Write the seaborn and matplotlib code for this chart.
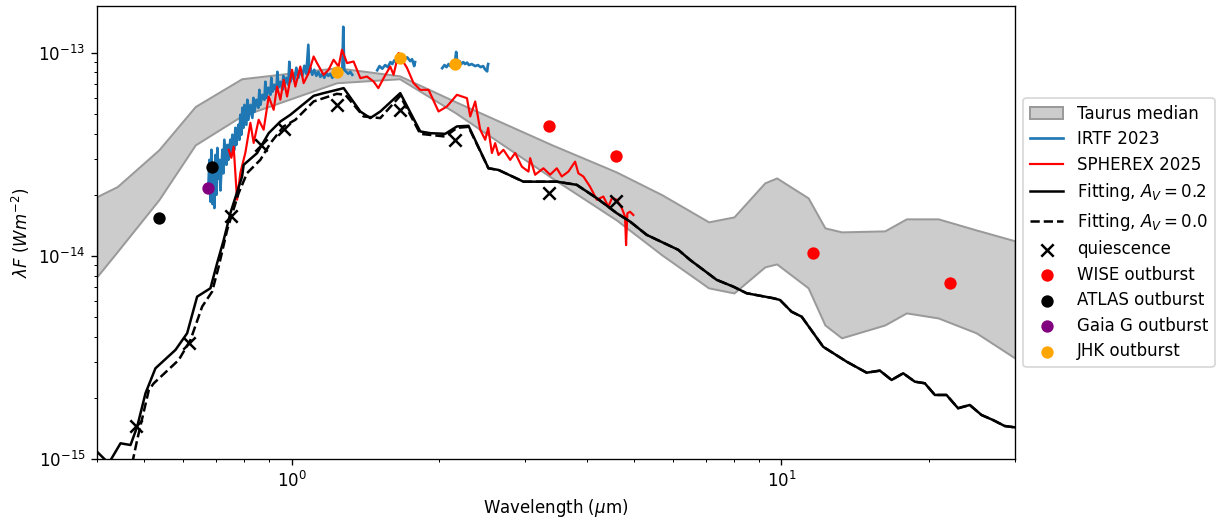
import numpy as np
import pandas as pd
import matplotlib
matplotlib.use("Agg")
import matplotlib.pyplot as plt
import matplotlib.ticker as mticker
import seaborn as sns

# ---------------- data ----------------
# Taurus median band (lower / upper envelope)
taurus_wl = [0.40, 0.44, 0.535, 0.635, 0.79, 1.235, 1.66, 2.16, 3.4, 4.6, 5.7, 7.1,
             8.0, 9.25, 9.78, 11.34, 12.27, 13.27, 16.26, 18.0, 20.9, 25.0, 30.0]
taurus_hi = [1.959e-14, 2.195e-14, 3.33e-14, 5.44e-14, 7.45e-14, 8.44e-14, 7.70e-14,
             5.74e-14, 3.52e-14, 2.59e-14, 2.00e-14, 1.471e-14, 1.556e-14, 2.29e-14,
             2.42e-14, 1.93e-14, 1.374e-14, 1.313e-14, 1.328e-14, 1.522e-14, 1.522e-14,
             1.342e-14, 1.186e-14]
taurus_lo = [7.91e-15, 1.050e-14, 1.89e-14, 3.52e-14, 4.89e-14, 7.12e-14, 7.45e-14,
             5.06e-14, 2.42e-14, 1.504e-14, 1.011e-14, 6.96e-15, 6.57e-15, 8.83e-15,
             9.13e-15, 6.96e-15, 4.57e-15, 3.95e-15, 4.57e-15, 5.24e-15, 4.95e-15,
             4.18e-15, 3.14e-15]

# IRTF 2023 spectrum (three segments)
irtf1_wl = [0.6755, 0.6787, 0.6819, 0.6851, 0.6884, 0.6916, 0.6948, 0.6981, 0.7014, 0.7046,
            0.7079, 0.7113, 0.7146, 0.7214, 0.7247, 0.7280, 0.7349, 0.7384, 0.7419, 0.7489,
            0.7524, 0.7560, 0.7632, 0.7667, 0.7702, 0.7775, 0.7812, 0.7849, 0.7887, 0.7925,
            0.7962, 0.8000, 0.8074, 0.8112, 0.8150, 0.8228, 0.8306, 0.8346, 0.8386, 0.8465,
            0.8543, 0.8584, 0.8624, 0.8705, 0.8788, 0.8830, 0.8872, 0.8954, 0.9040, 0.9082,
            0.9125, 0.9211, 0.9299, 0.9342, 0.9385, 0.9473, 0.9563, 0.9608, 0.9654, 0.9745,
            0.9837, 0.9883, 0.9929, 1.0023, 1.0118, 1.0214, 1.0311, 1.0406, 1.0505, 1.0605,
            1.0705, 1.0806, 1.0857, 1.0908, 1.1011, 1.1115, 1.1220, 1.1328, 1.1435, 1.1539,
            1.1650, 1.1760, 1.1871, 1.1984, 1.2097, 1.2209, 1.2325, 1.2442, 1.2560, 1.2679,
            1.2737, 1.2796, 1.2918, 1.3040, 1.3164, 1.3289]
irtf1_flux = [2.24e-14, 2.97e-14, 1.85e-14, 3.33e-14, 1.80e-14, 2.81e-14, 1.72e-14, 3.14e-14,
              2.00e-14, 3.40e-14, 2.40e-14, 2.97e-14, 2.10e-14, 3.33e-14, 2.55e-14, 3.73e-14,
              2.81e-14, 3.52e-14, 2.97e-14, 3.73e-14, 3.14e-14, 3.95e-14, 3.33e-14, 4.27e-14,
              3.52e-14, 4.42e-14, 3.73e-14, 4.95e-14, 3.95e-14, 5.36e-14, 4.27e-14, 5.54e-14,
              4.42e-14, 5.87e-14, 4.68e-14, 5.54e-14, 4.78e-14, 6.00e-14, 5.12e-14, 5.87e-14,
              5.36e-14, 6.57e-14, 5.54e-14, 6.21e-14, 5.87e-14, 7.20e-14, 6.00e-14, 6.73e-14,
              6.21e-14, 7.53e-14, 6.43e-14, 6.96e-14, 6.43e-14, 8.06e-14, 6.73e-14, 7.20e-14,
              6.57e-14, 7.70e-14, 6.88e-14, 7.53e-14, 6.96e-14, 9.03e-14, 7.20e-14, 7.79e-14,
              7.36e-14, 8.44e-14, 7.53e-14, 8.25e-14, 7.70e-14, 8.63e-14, 7.88e-14, 1.095e-13,
              8.06e-14, 8.44e-14, 7.79e-14, 8.25e-14, 7.70e-14, 8.06e-14, 7.61e-14, 7.88e-14,
              7.53e-14, 7.97e-14, 7.70e-14, 7.88e-14, 7.53e-14, 7.88e-14, 8.06e-14, 7.88e-14,
              8.06e-14, 8.25e-14, 1.343e-13, 8.25e-14, 8.06e-14, 7.88e-14, 8.06e-14, 7.79e-14]
irtf2_wl = [1.494, 1.51, 1.53, 1.551, 1.57, 1.59, 1.604, 1.62, 1.635, 1.650, 1.665, 1.68,
            1.70, 1.72, 1.745, 1.76, 1.778, 1.785]
irtf2_flux = [8.2e-14, 8.6e-14, 8.35e-14, 8.7e-14, 8.5e-14, 9.0e-14, 8.8e-14, 9.2e-14,
              9.0e-14, 9.4e-14, 9.2e-14, 9.6e-14, 9.3e-14, 9.5e-14, 9.1e-14, 9.3e-14,
              8.6e-14, 9.0e-14]
irtf3_wl = [2.028, 2.05, 2.07, 2.09, 2.106, 2.13, 2.155, 2.166, 2.178, 2.20, 2.22, 2.24,
            2.259, 2.28, 2.30, 2.33, 2.368, 2.40, 2.43, 2.459, 2.48, 2.506, 2.512, 2.518]
irtf3_flux = [8.4e-14, 8.7e-14, 8.5e-14, 8.8e-14, 8.6e-14, 8.9e-14, 9.1e-14, 1.01e-13,
              8.9e-14, 9.1e-14, 8.8e-14, 9.0e-14, 8.8e-14, 8.95e-14, 8.7e-14, 8.8e-14,
              8.6e-14, 8.7e-14, 8.5e-14, 8.6e-14, 8.3e-14, 8.1e-14, 8.6e-14, 8.8e-14]

# SPHEREx 2025 spectrum
spherex_wl = [0.7430, 0.7524, 0.7606, 0.7729, 0.7849, 0.8036, 0.8228, 0.8356, 0.8555, 0.8758,
              0.8968, 0.9180, 0.9328, 0.9474, 0.9623, 0.9777, 1.001, 1.0165, 1.0407, 1.0570,
              1.0822, 1.1079, 1.1257, 1.1611, 1.1887, 1.2169, 1.2459, 1.2659, 1.2965, 1.3371,
              1.3801, 1.4237, 1.4690, 1.5018, 1.5396, 1.5885, 1.6136, 1.6519, 1.6888, 1.7183,
              1.7726, 1.8292, 1.9022, 1.9935, 2.0737, 2.1735, 2.2784, 2.3140, 2.3689, 2.4252,
              2.4828, 2.5179, 2.5623, 2.6022, 2.6427, 2.7055, 2.7922, 2.8586, 2.9501, 3.0433,
              3.0672, 3.1400, 3.2650, 3.3697, 3.4768, 3.5595, 3.6718, 3.7895, 3.8485, 3.9400,
              4.0661, 4.1965, 4.3280, 4.4310, 4.5093, 4.6101, 4.7196, 4.7930, 4.8161, 4.8450,
              4.9068, 4.9842]
spherex_flux = [3.33e-14, 3.04e-14, 3.45e-14, 1.89e-14, 2.56e-14, 3.22e-14, 4.52e-14, 3.60e-14,
                4.68e-14, 4.18e-14, 6.09e-14, 5.24e-14, 6.82e-14, 5.87e-14, 7.36e-14, 6.09e-14,
                8.25e-14, 6.82e-14, 8.56e-14, 7.09e-14, 7.94e-14, 9.59e-14, 8.90e-14, 7.79e-14,
                8.25e-14, 9.24e-14, 8.56e-14, 1.035e-13, 8.90e-14, 9.06e-14, 7.50e-14, 7.64e-14,
                7.22e-14, 6.70e-14, 7.50e-14, 8.56e-14, 7.79e-14, 9.97e-14, 9.03e-14, 8.44e-14,
                7.09e-14, 6.57e-14, 6.57e-14, 5.14e-14, 5.44e-14, 6.21e-14, 5.98e-14, 4.86e-14,
                5.76e-14, 4.18e-14, 3.73e-14, 4.27e-14, 3.21e-14, 3.59e-14, 3.14e-14, 3.33e-14,
                2.97e-14, 3.21e-14, 2.75e-14, 2.60e-14, 3.03e-14, 2.51e-14, 2.70e-14, 2.51e-14,
                2.70e-14, 2.46e-14, 2.60e-14, 2.91e-14, 2.55e-14, 2.46e-14, 2.19e-14, 1.89e-14,
                1.96e-14, 1.75e-14, 1.93e-14, 1.89e-14, 1.72e-14, 1.56e-14, 1.13e-14, 1.62e-14,
                1.65e-14, 1.59e-14]

# Model fits
fit_av02_wl = [0.40, 0.4227, 0.4467, 0.4683, 0.4831, 0.5024, 0.5265, 0.5784, 0.6111, 0.6405,
               0.6819, 0.7036, 0.7259, 0.7489, 0.7913, 0.7972, 0.849, 0.8969, 0.9474, 0.9929,
               1.108, 1.161, 1.236, 1.276, 1.380, 1.446, 1.516, 1.665, 1.829, 1.918,
               2.057, 2.174, 2.295, 2.521, 2.642, 2.972, 3.477, 3.819, 4.197, 4.61,
               4.907, 5.308, 6.157, 6.506, 7.376, 7.973, 8.49, 9.623, 9.93, 10.49,
               11.0, 12.17, 13.59, 14.93, 15.89, 16.79, 17.73, 18.73, 19.63, 20.58,
               21.74, 22.95, 24.25, 25.63, 27.05, 28.58, 29.96]
fit_av02_flux = [1.086e-15, 9.53e-16, 1.195e-15, 1.172e-15, 1.442e-15, 2.107e-15, 2.797e-15,
                 3.443e-15, 4.16e-15, 6.30e-15, 6.93e-15, 9.20e-15, 1.199e-14, 1.623e-14,
                 2.459e-14, 2.808e-14, 3.205e-14, 4.022e-14, 4.587e-14, 4.95e-14, 6.14e-14,
                 6.33e-14, 6.57e-14, 6.70e-14, 5.14e-14, 4.77e-14, 5.14e-14, 6.33e-14,
                 4.10e-14, 4.02e-14, 3.99e-14, 4.34e-14, 4.37e-14, 2.70e-14, 2.65e-14,
                 2.32e-14, 2.32e-14, 2.238e-14, 1.924e-14, 1.623e-14, 1.476e-14, 1.269e-14,
                 1.071e-14, 9.56e-15, 7.62e-15, 7.06e-15, 6.55e-15, 6.19e-15, 6.07e-15,
                 5.31e-15, 5.02e-15, 3.57e-15, 3.015e-15, 2.661e-15, 2.723e-15, 2.45e-15,
                 2.643e-15, 2.403e-15, 2.36e-15, 2.067e-15, 2.067e-15, 1.778e-15, 1.845e-15,
                 1.647e-15, 1.556e-15, 1.454e-15, 1.432e-15]
fit_av0_wl = [0.472, 0.4831, 0.5104, 0.5224, 0.5875, 0.6208, 0.6559, 0.6873, 0.7089, 0.7377,
              0.7785, 0.81, 0.8623, 0.904, 0.9623, 1.0165, 1.108, 1.236, 1.286, 1.401,
              1.516, 1.665, 1.829, 2.057, 2.174, 2.295] + fit_av02_wl[33:]
fit_av0_flux = [9.53e-16, 1.241e-15, 2.187e-15, 2.36e-15, 3.074e-15, 3.857e-15, 5.63e-15,
                6.67e-15, 8.86e-15, 1.342e-14, 2.037e-14, 2.555e-14, 2.971e-14, 3.59e-14,
                4.34e-14, 4.677e-14, 5.76e-14, 6.28e-14, 6.21e-14, 4.86e-14, 4.77e-14,
                6.14e-14, 3.99e-14, 3.87e-14, 4.27e-14, 4.32e-14] + fit_av02_flux[33:]

# Photometry
quies_wl = [0.481, 0.617, 0.752, 0.866, 0.962, 1.235, 1.662, 2.159, 3.35, 4.6]
quies_flux = [1.454e-15, 3.74e-15, 1.574e-14, 3.52e-14, 4.21e-14, 5.54e-14, 5.20e-14,
              3.73e-14, 2.05e-14, 1.873e-14]
wise_wl = [3.35, 4.6, 11.6, 22.1]
wise_flux = [4.37e-14, 3.11e-14, 1.038e-14, 7.39e-15]
atlas_wl = [0.5365, 0.6875]
atlas_flux = [1.534e-14, 2.735e-14]
gaia_wl = [0.673]
gaia_flux = [2.156e-14]
jhk_wl = [1.235, 1.662, 2.159]
jhk_flux = [8.03e-14, 9.42e-14, 8.83e-14]

x_major_ticks = [1, 10]
y_major_ticks = [1e-15, 1e-14, 1e-13]

# ---------------- plot ----------------
DPI = 120
fig = plt.figure(figsize=(1222 / DPI, 529 / DPI), dpi=DPI)
ax = fig.add_axes([0.0794, 0.1323, 0.7512, 0.8564])

ax.fill_between(taurus_wl, taurus_lo, taurus_hi, facecolor="#cccccc",
                edgecolor="#9a9a9a", linewidth=1.2, label="Taurus median", zorder=1)

df_irtf = pd.DataFrame({
    "wl": irtf1_wl + irtf2_wl + irtf3_wl,
    "flux": irtf1_flux + irtf2_flux + irtf3_flux,
    "seg": [1] * len(irtf1_wl) + [2] * len(irtf2_wl) + [3] * len(irtf3_wl),
})
sns.lineplot(data=df_irtf, x="wl", y="flux", units="seg", estimator=None, sort=False,
             color="#1f77b4", lw=1.6, label="IRTF 2023", ax=ax, zorder=2)
sns.lineplot(x=spherex_wl, y=spherex_flux, estimator=None, sort=False, color="red",
             lw=1.3, label="SPHEREX 2025", ax=ax, zorder=3)
sns.lineplot(x=fit_av02_wl, y=fit_av02_flux, estimator=None, sort=False, color="black",
             lw=1.5, label=r"Fitting, $A_V = 0.2$", ax=ax, zorder=4)
sns.lineplot(x=fit_av0_wl, y=fit_av0_flux, estimator=None, sort=False, color="black",
             lw=1.5, linestyle="--", label=r"Fitting, $A_V = 0.0$", ax=ax, zorder=4)

sns.scatterplot(x=quies_wl, y=quies_flux, marker="x", color="black", s=55, linewidth=1.5,
                label="quiescence", ax=ax, zorder=5)
sns.scatterplot(x=wise_wl, y=wise_flux, color="red", s=55, linewidth=0,
                label="WISE outburst", ax=ax, zorder=5)
sns.scatterplot(x=atlas_wl, y=atlas_flux, color="black", s=55, linewidth=0,
                label="ATLAS outburst", ax=ax, zorder=5)
sns.scatterplot(x=gaia_wl, y=gaia_flux, color="purple", s=55, linewidth=0,
                label="Gaia G outburst", ax=ax, zorder=5)
sns.scatterplot(x=jhk_wl, y=jhk_flux, color="orange", s=55, linewidth=0,
                label="JHK outburst", ax=ax, zorder=6)

ax.set_xscale("log")
ax.set_yscale("log")
ax.set_xticks(x_major_ticks)
ax.set_yticks(y_major_ticks)
ax.xaxis.set_minor_formatter(mticker.NullFormatter())
ax.yaxis.set_minor_formatter(mticker.NullFormatter())
ax.set_xlim(0.4, 30)
ax.set_ylim(1e-15, 1.70e-13)
ax.set_xlabel(r"Wavelength ($\mu$m)")
ax.set_ylabel(r"$\lambda F$ ($Wm^{-2}$)")

handles, labels = ax.get_legend_handles_labels()
seen = {}
for h, l in zip(handles, labels):
    if l not in seen and not l.startswith("_"):
        seen[l] = h
ax.legend(list(seen.values()), list(seen.keys()), loc="center left",
          bbox_to_anchor=(1.0, 0.5), labelspacing=0.45)

fig.savefig("out.png", dpi=DPI)
